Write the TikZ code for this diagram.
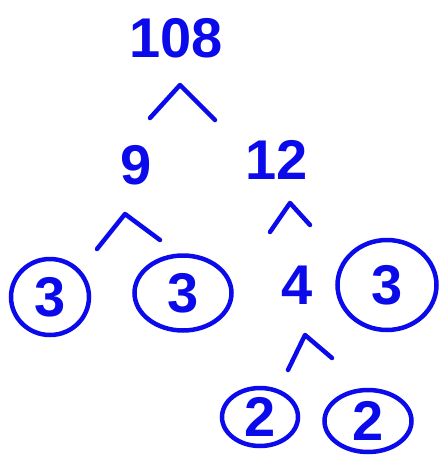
\documentclass[tikz,border=0pt]{standalone}
\usepackage{fontspec}
\setmainfont{Liberation Sans}
\usetikzlibrary{positioning, shapes.geometric}
\definecolor{inkblue}{RGB}{10,10,235}

\begin{document}
\begin{tikzpicture}[
    x=1pt, y=-1pt,
    num/.style={text=inkblue, font=\fontsize{56}{60}\selectfont\bfseries, inner sep=0pt},
    ring/.style={num, draw=inkblue, ellipse, line width=4.5pt, minimum width=#1},
    ring/.default=80pt,
    caret/.style={draw=inkblue, line width=4.5pt, line cap=round, line join=round},
]
\useasboundingbox (0,0) rectangle (445,456);

% Factors
\node[num]                               (n108) at (176,38)  {108};
\node[num]                               (n9)   at (136,165) {9};
\node[num]                               (n12)  at (277,160) {12};
\node[ring=78pt, minimum height=76pt]    (a3)   at (50,297)  {3};
\node[ring=97pt, minimum height=75pt]    (b3)   at (183,293) {3};
\node[num]                               (n4)   at (297,285) {4};
\node[ring=99pt, minimum height=90pt]    (c3)   at (387,285) {3};
\node[ring=76pt, minimum height=58pt]    (a2)   at (260,417) {2};
\node[ring=87pt, minimum height=62pt]    (b2)   at (368,421) {2};

% Branch marks
\draw[caret] (150,118) -- (180,85)  -- (215,120);
\draw[caret] (97,249)  -- (125,214) -- (160,240);
\draw[caret] (270,232) -- (290,203) -- (310,225);
\draw[caret] (288,370) -- (305,335) -- (332,358);
\end{tikzpicture}
\end{document}
